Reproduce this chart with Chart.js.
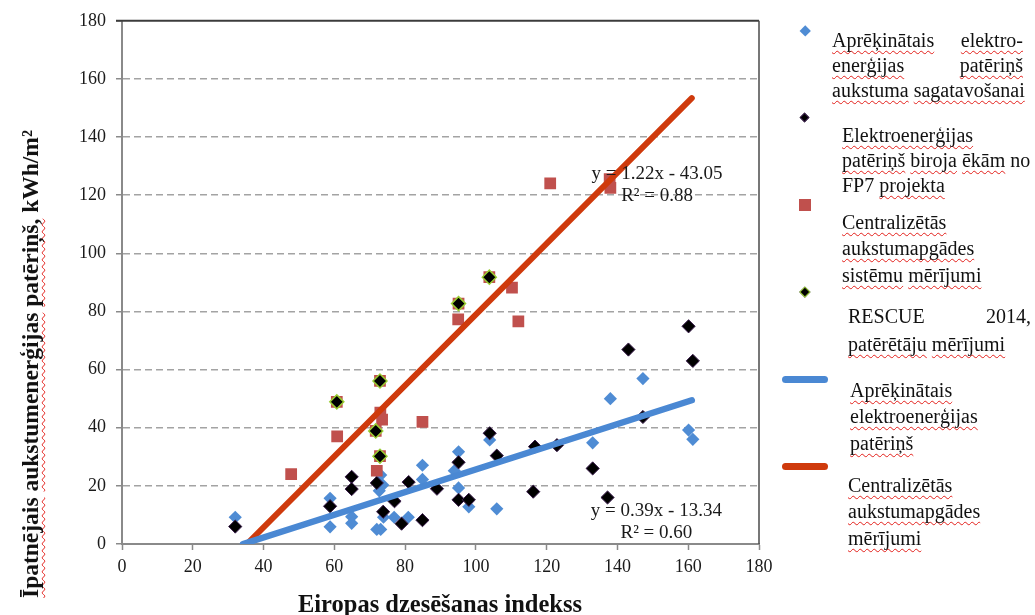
<!DOCTYPE html>
<html>
<head>
<meta charset="utf-8">
<script src="https://cdn.jsdelivr.net/npm/chart.js@4.4.0/dist/chart.umd.min.js"></script>
<style>
  html, body { margin: 0; padding: 0; background: #fff; }
  #wrap { position: relative; width: 1035px; height: 615px; overflow: hidden;
          font-family: 'Liberation Serif', 'Times New Roman', serif; color: #111; }
  #chart { position: absolute; left: 0; top: 0; }
  .sp { text-decoration: underline wavy #e3201b; text-decoration-thickness: 1px;
        text-underline-offset: 3px; text-decoration-skip-ink: none; }
  .entry { position: absolute; font-size: 20px; }
  .entry .ln { white-space: nowrap; }
  .entry .ln.just { white-space: normal; text-align: justify; text-align-last: justify; }
  .mk { position: absolute; box-sizing: border-box; }
  .axis-title { position: absolute; font-weight: bold; white-space: nowrap; line-height: 26px; }
</style>
</head>
<body>
<div id="wrap">
  <canvas id="chart" width="1035" height="615"></canvas>
  <div id="legend"></div>
  <div class="axis-title" id="ytitle"></div>
  <div class="axis-title" id="xtitle"></div>
</div>
<script>
  'use strict';

  // Aprēķinātais elektroenerģijas patēriņš (blue diamonds)
  var calcX = [32, 58.8, 58.8, 64.9, 64.9, 72, 73.1, 73.1, 73.7, 72.7, 73.9, 76.9, 80.9,
               84.9, 84.9, 93.9, 95.1, 95.1, 98, 103.9, 105.9, 133, 138, 147.2, 160.1, 161.3];
  var calcY = [9.2, 15.7, 5.9, 9.4, 7.1, 5, 5, 23.7, 20.3, 18.3, 9.2, 9.2, 9.2,
               27.1, 22.2, 25.2, 31.7, 19.3, 12.8, 35.8, 12.1, 34.8, 50, 56.9, 39.2, 36];

  // FP7 office buildings (black diamonds)
  var fp7X = [32, 58.8, 64.9, 64.9, 72, 73.8, 77, 79, 81, 84.9, 89, 95.1, 95.1, 98, 103.9,
              105.9, 116.2, 116.7, 122.9, 133, 137.2, 143.1, 147.2, 160.1, 161.3];
  var fp7Y = [6, 13, 23.1, 18.9, 21, 11.1, 14.7, 7, 21.3, 8.2, 19, 28.1, 15.2, 15.2, 38.1,
              30.4, 18, 33.5, 34, 26, 16, 66.9, 43.7, 74.9, 63];

  // district cooling measurements (red squares)
  var dcX = [47.8, 60.8, 72, 73, 73.5, 84.9, 95, 110.2, 112, 121, 137.8, 138,
             60.7, 72.9, 71.7, 72.9, 95.1, 103.8];
  var dcY = [24, 37, 25.2, 45.2, 42.8, 42, 77.3, 88.2, 76.6, 124.1, 125.5, 122.5,
             48.9, 56.1, 38.9, 30.2, 82.7, 91.8];

  // RESCUE 2014 consumer measurements
  var rescueX = [60.7, 72.9, 71.7, 72.9, 95.1, 103.8];
  var rescueY = [48.9, 56.1, 38.9, 30.2, 82.7, 91.8];

  // linear trends: [calculated, district cooling]
  var trendSlope = [0.39, 1.22];
  var trendIntercept = [-13.34, -43.05];
  var trendR2 = [0.60, 0.88];
  var trendEndX = [161, 161];

  var yTicks = [0, 20, 40, 60, 80, 100, 120, 140, 160, 180];
  var xTicks = [0, 20, 40, 60, 80, 100, 120, 140, 160, 180];

  var legendLines = [
    ['Aprēķinātais elektro-', 'enerģijas patēriņš', 'aukstuma sagatavošanai'],
    ['Elektroenerģijas', 'patēriņš biroja ēkām no', 'FP7 projekta'],
    ['Centralizētās', 'aukstumapgādes', 'sistēmu mērījumi'],
    ['RESCUE 2014,', 'patērētāju mērījumi'],
    ['Aprēķinātais', 'elektroenerģijas', 'patēriņš'],
    ['Centralizētās', 'aukstumapgādes', 'mērījumi']
  ];
  var xTitle = 'Eiropas dzesēšanas indekss';
  var yTitle = 'Īpatnējais aukstumenerģijas patēriņš, kWh/m²';

  var BLUE = '#4f8cd4';
  var BLUE_LINE = '#4a88d3';
  var RED_SQ = '#c0504d';
  var RED_LINE = '#cf3a0c';
  var GREEN_EDGE = '#9acd32';

  function pairs(xs, ys) {
    return xs.map(function (v, i) { return {x: v, y: ys[i]}; });
  }

  function trendPoints(i) {
    var x0 = -trendIntercept[i] / trendSlope[i];
    var x1 = trendEndX[i];
    return [{x: x0, y: 0}, {x: x1, y: trendSlope[i] * x1 + trendIntercept[i]}];
  }

  function eqText(i) {
    var b = trendIntercept[i];
    return 'y = ' + trendSlope[i].toFixed(2) + 'x ' + (b < 0 ? '- ' : '+ ') + Math.abs(b).toFixed(2);
  }

  // where the trend equations sit, in axis units (centre of first line)
  var eqAnchors = [{x: 151.0, y: 11.3}, {x: 151.2, y: 127.4}];

  var eqLabels = {
    id: 'eqLabels',
    afterDatasetsDraw: function (chart) {
      var ctx = chart.ctx, xs = chart.scales.x, ys = chart.scales.y;
      ctx.save();
      ctx.font = '19px "Liberation Serif"';
      ctx.fillStyle = '#1a1a1a';
      ctx.textAlign = 'center';
      ctx.textBaseline = 'middle';
      eqAnchors.forEach(function (a, i) {
        var px = xs.getPixelForValue(a.x);
        var py = ys.getPixelForValue(a.y);
        ctx.fillText(eqText(i), px, py);
        ctx.fillText('R\u00b2 = ' + trendR2[i].toFixed(2), px, py + 22);
      });
      ctx.restore();
    }
  };

  // dark top and right edges of the plot area
  var plotFrame = {
    id: 'plotFrame',
    beforeDatasetsDraw: function (chart) {
      var a = chart.chartArea, ctx = chart.ctx;
      ctx.save();
      ctx.strokeStyle = '#3c3c3c';
      ctx.lineWidth = 2;
      ctx.beginPath();
      ctx.moveTo(a.left - 6, a.top);
      ctx.lineTo(a.right, a.top);
      ctx.stroke();
      ctx.lineWidth = 1.5;
      ctx.strokeStyle = '#4a4a4a';
      ctx.beginPath();
      ctx.moveTo(a.right, a.top);
      ctx.lineTo(a.right, a.bottom);
      ctx.stroke();
      ctx.restore();
    }
  };

  var tickFont = {family: 'Liberation Serif', size: 18};

  var config = {
    type: 'scatter',
    data: {
      datasets: [
        {
          label: legendLines[4].join(' '),
          data: trendPoints(0),
          showLine: true,
          borderColor: BLUE_LINE,
          borderWidth: 6.5,
          borderCapStyle: 'round',
          pointRadius: 0,
          clip: 0,
          order: 0
        },
        {
          label: legendLines[5].join(' '),
          data: trendPoints(1),
          showLine: true,
          borderColor: RED_LINE,
          borderWidth: 6,
          borderCapStyle: 'round',
          pointRadius: 0,
          clip: 0,
          order: 0
        },
        {
          label: legendLines[3].join(' '),
          data: pairs(rescueX, rescueY),
          pointStyle: 'rectRot',
          pointRadius: 7,
          backgroundColor: '#000',
          borderColor: GREEN_EDGE,
          borderWidth: 1.5,
          order: 1
        },
        {
          label: legendLines[2].join(' '),
          data: pairs(dcX, dcY),
          pointStyle: 'rect',
          pointRadius: 8.3,
          backgroundColor: RED_SQ,
          borderColor: RED_SQ,
          borderWidth: 0,
          order: 2
        },
        {
          label: legendLines[1].join(' '),
          data: pairs(fp7X, fp7Y),
          pointStyle: 'rectRot',
          pointRadius: 6.6,
          backgroundColor: '#000',
          borderColor: '#3a1c4c',
          borderWidth: 1,
          order: 3
        },
        {
          label: legendLines[0].join(' ').replace('- ', ''),
          data: pairs(calcX, calcY),
          pointStyle: 'rectRot',
          pointRadius: 6.6,
          backgroundColor: BLUE,
          borderColor: BLUE,
          borderWidth: 0,
          order: 4
        }
      ]
    },
    options: {
      responsive: false,
      animation: false,
      events: [],
      layout: {padding: {left: 0, right: 276, top: 20, bottom: 0}},
      plugins: {legend: {display: false}, tooltip: {enabled: false}, title: {display: false}},
      scales: {
        x: {
          type: 'linear',
          min: xTicks[0],
          max: xTicks[xTicks.length - 1],
          afterBuildTicks: function (s) { s.ticks = xTicks.map(function (v) { return {value: v}; }); },
          afterFit: function (s) { s.height = 71; },
          grid: {display: true, drawOnChartArea: false, drawTicks: true, tickLength: 6,
                 tickColor: '#8a8a8a', tickWidth: 1.5},
          border: {display: true, color: '#8a8a8a', width: 2},
          ticks: {font: tickFont, color: '#1a1a1a', padding: 6, maxRotation: 0}
        },
        y: {
          type: 'linear',
          min: yTicks[0],
          max: yTicks[yTicks.length - 1],
          afterBuildTicks: function (s) { s.ticks = yTicks.map(function (v) { return {value: v}; }); },
          afterFit: function (s) { s.width = 122; },
          grid: {
            display: true,
            drawTicks: true,
            tickLength: 6,
            tickColor: '#8a8a8a',
            tickWidth: 1.5,
            lineWidth: 1.5,
            color: function (c) {
              var v = c.tick && c.tick.value;
              return (v === yTicks[0] || v === yTicks[yTicks.length - 1]) ? 'rgba(0,0,0,0)' : '#a3a3a3';
            }
          },
          border: {display: true, color: '#8a8a8a', width: 2, dash: [7, 4]},
          ticks: {font: tickFont, color: '#1a1a1a', padding: 10}
        }
      }
    },
    plugins: [plotFrame, eqLabels]
  };

  var ctx = document.getElementById('chart').getContext('2d');
  window.coolingChart = new Chart(ctx, config);

  // ---- legend and axis titles (HTML, wrapped like the original text boxes) ----
  var plainWords = ['no', 'FP7', 'RESCUE', '2014,', 'kWh/m²'];
  function markWords(line) {
    return line.split(' ').map(function (w) {
      return plainWords.indexOf(w) >= 0 ? w : '<span class="sp">' + w + '</span>';
    }).join(' ');
  }

  var legendBoxes = [
    {left: 832, top: 27.5, width: 191, lh: 25, just: [true, true, false]},
    {left: 842, top: 122.5, width: 200, lh: 25, just: []},
    {left: 842, top: 208.7, width: 200, lh: 26.5, just: []},
    {left: 848, top: 301.5, width: 183, lh: 28, just: [true]},
    {left: 850, top: 376.7, width: 180, lh: 26.5, just: []},
    {left: 848, top: 471.7, width: 180, lh: 26.5, just: []}
  ];

  var markers = [
    {kind: 'diamond', x: 805, y: 31, r: 6, fill: BLUE},
    {kind: 'diamond', x: 805, y: 118, r: 5, fill: '#000', edge: '#3a1c4c'},
    {kind: 'square', x: 805, y: 205, r: 5.6, fill: RED_SQ},
    {kind: 'diamond', x: 805, y: 292, r: 5.5, fill: '#000', edge: GREEN_EDGE},
    {kind: 'line', x: 805, y: 379, r: 23, fill: BLUE_LINE},
    {kind: 'line', x: 805, y: 466, r: 23, fill: RED_LINE}
  ];

  var legendEl = document.getElementById('legend');
  var html = '';
  legendLines.forEach(function (lines, i) {
    var b = legendBoxes[i];
    html += '<div class="entry" style="left:' + b.left + 'px;top:' + b.top + 'px;width:' + b.width +
            'px;line-height:' + b.lh + 'px">';
    lines.forEach(function (ln, j) {
      html += '<div class="ln' + (b.just[j] ? ' just' : '') + '">' + markWords(ln) + '</div>';
    });
    html += '</div>';

    var m = markers[i];
    if (m.kind === 'diamond') {
      var side = m.r * Math.SQRT2;
      html += '<div class="mk" style="left:' + (m.x - side / 2) + 'px;top:' + (m.y - side / 2) +
              'px;width:' + side + 'px;height:' + side + 'px;background:' + m.fill +
              ';transform:rotate(45deg);' + (m.edge ? 'border:1.2px solid ' + m.edge + ';' : '') + '"></div>';
    } else if (m.kind === 'square') {
      html += '<div class="mk" style="left:' + (m.x - m.r) + 'px;top:' + (m.y - m.r) +
              'px;width:' + (2 * m.r) + 'px;height:' + (2 * m.r) + 'px;background:' + m.fill + '"></div>';
    } else {
      html += '<div class="mk" style="left:' + (m.x - m.r) + 'px;top:' + (m.y - 3.5) +
              'px;width:' + (2 * m.r) + 'px;height:7px;border-radius:3.5px;background:' + m.fill + '"></div>';
    }
  });
  legendEl.innerHTML = html;

  var yt = document.getElementById('ytitle');
  yt.innerHTML = markWords(yTitle);
  yt.style.fontSize = '23.5px';
  yt.style.left = '30px';
  yt.style.top = '364px';
  yt.style.transform = 'translate(-50%, -50%) rotate(-90deg)';

  var xt = document.getElementById('xtitle');
  xt.innerHTML = xTitle;
  xt.style.fontSize = '24.5px';
  xt.style.left = '440px';
  xt.style.top = '591px';
  xt.style.transform = 'translateX(-50%)';
</script>
</body>
</html>
